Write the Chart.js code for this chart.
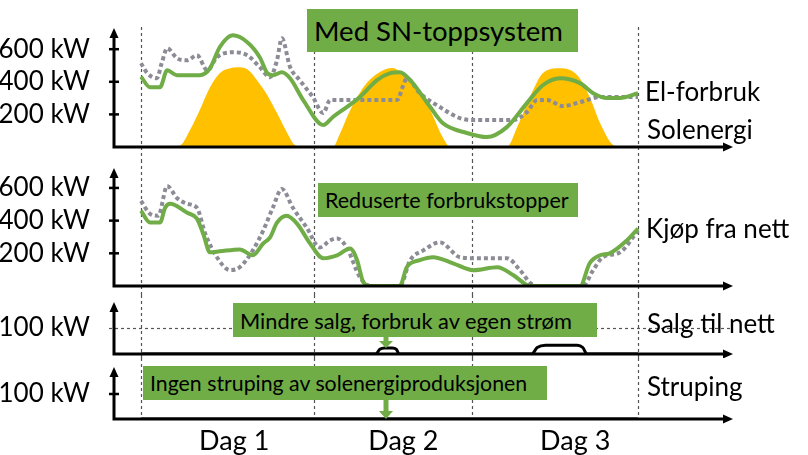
<!DOCTYPE html>
<html>
<head>
<meta charset="utf-8">
<script src="https://cdn.jsdelivr.net/npm/chart.js@4.4.1/dist/chart.umd.min.js"></script>
<style>
  html, body { margin: 0; padding: 0; background: #fff; }
  #wrap { position: relative; width: 808px; height: 455px; overflow: hidden; font-family: Lato, sans-serif; color: #000; }
  #wrap canvas { position: absolute; left: 0; }
  .lbl { position: absolute; font-size: 26px; line-height: 26px; white-space: nowrap; z-index: 2; }
  .box { position: absolute; background: #70AD47; display: flex; align-items: center; padding-left: 7px;
         box-sizing: border-box; white-space: nowrap; z-index: 3; color: #000; }
  svg.arr { position: absolute; z-index: 3; }
</style>
</head>
<body>
<div id="wrap">
  <canvas id="p1" width="808" height="160" style="top:0"></canvas>
  <canvas id="p2" width="808" height="135" style="top:160px"></canvas>
  <canvas id="p3" width="808" height="63" style="top:295px"></canvas>
  <canvas id="p4" width="808" height="97" style="top:358px"></canvas>

  <div class="box" style="left:307px;top:9px;width:271px;height:43px;font-size:27.5px">Med SN-toppsystem</div>
  <div class="box" style="left:318px;top:183px;width:260px;height:34px;font-size:21.5px">Reduserte forbrukstopper</div>
  <div class="box" style="left:233px;top:303px;width:364px;height:34px;font-size:21.8px">Mindre salg, forbruk av egen strøm</div>
  <div class="box" style="left:143px;top:366px;width:404px;height:34px;font-size:21.3px">Ingen struping av solenergiproduksjonen</div>

  <svg class="arr" style="left:379px;top:337px" width="14" height="11"><polygon fill="#70AD47" points="4.5,0 9.5,0 9.5,4 14,4 7,11 0,4 4.5,4"/></svg>
  <svg class="arr" style="left:379px;top:400px" width="14" height="19"><polygon fill="#70AD47" points="4.5,0 9.5,0 9.5,11 14,11 7,19 0,11 4.5,11"/></svg>

  <div class="lbl" style="left:645px;top:78px">El-forbruk</div>
  <div class="lbl" style="left:647px;top:116px">Solenergi</div>
  <div class="lbl" style="left:646px;top:215px">Kjøp fra nett</div>
  <div class="lbl" style="left:647px;top:310px">Salg til nett</div>
  <div class="lbl" style="left:647px;top:373px">Struping</div>
</div>

<script>
// hours from start of Dag 1, kW
var HOUR_MIN = -3.91, HOUR_MAX = 85.76;
var dayLines   = [0, 25.1, 48, 72];
var dayLabelAt = [13.5, 38, 62.9];
var dayLabels  = ['Dag 1', 'Dag 2', 'Dag 3'];

// panel 1: el-forbruk og solenergi
var solH  = [0, 4, 5.6, 7.1, 8.5, 10, 11.4, 12.9, 13.9, 15.4, 16.8, 18.3, 19.7, 21.2, 22.3, 23.5,
             27.8, 28.8, 30.3, 32.7, 35.1, 36.4, 37.5, 39, 41.9, 43.7, 44.8,
             53, 54.5, 56.8, 58.2, 60.7, 63.2, 65, 66.5, 68.4, 69.5, 72];
var solKW = [0, 3, 8, 104, 226, 367, 453, 483, 489, 477, 410, 318, 208, 85, 12, 0,
             0, 80, 226, 392, 471, 485, 465, 422, 226, 61, 0,
             0, 122, 349, 453, 483, 440, 306, 147, 12, 0, 0];

var forbrukSnH  = [0, 1.3, 2.75, 3.8, 5.2, 8.5, 10, 11.4, 13.3, 15.4, 17.2, 18.3, 19.1, 20.4, 21.6,
                   23.5, 26.4, 27.8, 29.8, 31.7, 34.2, 36.1, 37.5, 39, 41.9, 43.7, 47.2, 50.1, 53,
                   55.9, 58.2, 60.7, 63.6, 65.5, 67.5, 69.4, 72];
var forbrukSnKW = [431, 367, 367, 471, 440, 440, 483, 612, 685, 643, 551, 453, 440, 459, 422,
                   288, 135, 184, 245, 306, 410, 453, 459, 410, 245, 147, 86, 61, 122,
                   269, 379, 422, 392, 330, 300, 300, 330];

var forbrukRefH  = [0, 0.9, 2.3, 3, 3.8, 5.2, 6.7, 8.1, 9.6, 11, 13.3, 15.4, 17.2, 18.7, 19.7,
                    20.4, 21.6, 23, 24.9, 26.4, 27.4, 29.3, 32.7, 37.1, 38, 38.5, 40.4, 43.3,
                    46.2, 48.1, 53.9, 55.9, 57.4, 58.8, 61.1, 63.6, 66.5, 70.4, 72];
var forbrukRefKW = [514, 453, 422, 514, 606, 545, 532, 563, 471, 551, 581, 563, 490, 428, 532,
                    667, 490, 410, 306, 208, 288, 288, 288, 288, 380, 422, 330, 245,
                    177, 165, 165, 214, 288, 288, 251, 275, 306, 306, 306];

// panel 2: kjøp fra nett
var kjopSnH  = [0, 1.3, 2.75, 3.5, 4.2, 6.7, 8.1, 9, 10, 11.4, 14.3, 16.2, 17.7, 18.7, 19.7,
                21.1, 22.6, 24.5, 26.4, 28.4, 30.3, 31.3, 32.2, 33.2, 37.5, 38.5, 40.4, 42.3,
                45.2, 48.1, 51.6, 53.9, 55.9, 56.4, 63.6, 65, 66.5, 67.9, 70.4, 72];
var kjopSnKW = [460, 388, 388, 479, 503, 448, 412, 321, 206, 212, 224, 188, 260, 297, 388,
                430, 382, 260, 170, 188, 230, 158, 24, 0, 0, 115, 158, 176,
                139, 97, 115, 67, 6, 0, 0, 139, 188, 200, 279, 351];

var kjopRefH  = [0, 1.3, 2.5, 3.8, 5.2, 6.7, 8.1, 9.3, 11, 12.9, 14.3, 16.2, 17.7, 19.1, 20.4,
                 22, 24, 25.9, 27.4, 28.4, 29.8, 31.7, 33.2, 37.5, 39, 40.9, 43.3, 46.2,
                 48.1, 53, 54.9, 56.4, 57.2, 64, 65.5, 66.9, 69.4, 72];
var kjopRefKW = [521, 442, 430, 612, 539, 503, 479, 321, 176, 97, 115, 218, 339, 479, 594,
                 479, 358, 236, 279, 291, 236, 55, 0, 0, 158, 218, 267, 176,
                 170, 170, 97, 18, 0, 0, 97, 176, 206, 339];

// panel 3: salg til nett, panel 4: struping
var salgH  = [0, 34, 34.6, 35.3, 36.4, 37, 37.4, 56.6, 57.4, 58.6, 63.2, 64, 64.6, 72];
var salgKW = [0, 0, 18, 23, 23, 18, 0, 0, 25, 34, 34, 25, 0, 0];
var strupH  = [0, 72];
var strupKW = [0, 0];

var GREEN = '#70AD47', GREY = '#8C8C96', SUN = '#FFC000';

function pts(hs, vs) {
  return hs.map(function(h, i) { return { x: h, y: vs[i] }; });
}

Chart.defaults.font.family = 'Lato, sans-serif';

// dividers, reference line, axes with arrow heads
var framePlugin = {
  id: 'frame',
  beforeDatasetsDraw: function(chart, args, o) {
    var ctx = chart.ctx, xs = chart.scales.x, ys = chart.scales.y, a = chart.chartArea;
    ctx.save();
    ctx.strokeStyle = '#555'; ctx.lineWidth = 1.2; ctx.setLineDash([3, 3]);
    dayLines.forEach(function(h) {
      var px = Math.round(xs.getPixelForValue(h)) + 0.5;
      ctx.beginPath(); ctx.moveTo(px, o.divTop);
      ctx.lineTo(px, o.divToAxis ? a.bottom : chart.height); ctx.stroke();
    });
    if (o.refLine != null) {
      var py = Math.round(ys.getPixelForValue(o.refLine)) + 0.5;
      ctx.beginPath(); ctx.moveTo(a.left - 5, py); ctx.lineTo(a.right, py); ctx.stroke();
    }
    ctx.restore();
  },
  afterDatasetsDraw: function(chart, args, o) {
    var ctx = chart.ctx, ys = chart.scales.y, a = chart.chartArea;
    ctx.save();
    ctx.strokeStyle = '#000'; ctx.fillStyle = '#000'; ctx.lineWidth = 3;
    ctx.beginPath();
    ctx.moveTo(a.left, a.top + 6); ctx.lineTo(a.left, a.bottom); ctx.lineTo(a.right - 6, a.bottom);
    ctx.stroke();
    ctx.beginPath();
    ctx.moveTo(a.left, a.top); ctx.lineTo(a.left - 4.5, a.top + 10); ctx.lineTo(a.left + 4.5, a.top + 10);
    ctx.closePath(); ctx.fill();
    ctx.beginPath();
    ctx.moveTo(a.right, a.bottom); ctx.lineTo(a.right - 10, a.bottom - 4.5); ctx.lineTo(a.right - 10, a.bottom + 4.5);
    ctx.closePath(); ctx.fill();
    if (o.tickMarks) {
      ctx.lineWidth = 2.5;
      ys.ticks.forEach(function(t) {
        var py = ys.getPixelForValue(t.value);
        ctx.beginPath(); ctx.moveTo(a.left - 5, py); ctx.lineTo(a.left + 5, py); ctx.stroke();
      });
    }
    ctx.restore();
  }
};

function makePanel(id, yMax, yTicks, datasets, frame, pad, xAxis) {
  return new Chart(document.getElementById(id), {
    type: 'line',
    data: { datasets: datasets },
    options: {
      responsive: false, animation: false, events: [],
      layout: { padding: { left: 0, right: 75, top: pad[0], bottom: pad[1] } },
      elements: { point: { radius: 0 }, line: { cubicInterpolationMode: 'monotone' } },
      plugins: { legend: { display: false }, tooltip: { enabled: false }, frame: frame },
      scales: {
        x: xAxis || { type: 'linear', display: false, min: HOUR_MIN, max: HOUR_MAX },
        y: {
          min: 0, max: yMax,
          grid: { display: false }, border: { display: false },
          afterBuildTicks: function(s) { s.ticks = yTicks.map(function(v) { return { value: v }; }); },
          afterFit: function(s) { s.width = 114; s.paddingTop = 0; s.paddingBottom = 0; },
          ticks: { color: '#000', font: { size: 26 }, padding: 16,
                   callback: function(v) { return v + ' kW'; } }
        }
      }
    },
    plugins: [framePlugin]
  });
}

function sn(h, v)  { return { data: pts(h, v), borderColor: GREEN, borderWidth: 4, fill: false }; }
function ref(h, v) { return { data: pts(h, v), borderColor: GREY, borderWidth: 4, borderDash: [4, 3], fill: false }; }

makePanel('p1', 730, [200, 400, 600], [
  sn(forbrukSnH, forbrukSnKW),
  ref(forbrukRefH, forbrukRefKW),
  { data: pts(solH, solKW), borderColor: SUN, borderWidth: 0, backgroundColor: SUN, fill: 'origin' }
], { divTop: 27, tickMarks: true }, [28, 13]);

makePanel('p2', 722, [200, 400, 600], [
  sn(kjopSnH, kjopSnKW),
  ref(kjopRefH, kjopRefKW)
], { divTop: 0, tickMarks: true }, [8, 9]);

makePanel('p3', 200, [100], [
  { data: pts(salgH, salgKW), borderColor: '#000', borderWidth: 3, fill: false }
], { divTop: 0, tickMarks: false, refLine: 100 }, [7, 4]);

makePanel('p4', 208, [100], [
  { data: pts(strupH, strupKW), borderColor: '#000', borderWidth: 3, fill: false }
], { divTop: 0, divToAxis: true, tickMarks: true }, [9, 0], {
  type: 'linear', min: HOUR_MIN, max: HOUR_MAX,
  grid: { display: false, drawTicks: false }, border: { display: false },
  afterBuildTicks: function(s) { s.ticks = dayLabelAt.map(function(v) { return { value: v }; }); },
  afterFit: function(s) { s.height = 36; s.paddingLeft = 0; s.paddingRight = 0; },
  ticks: { autoSkip: false, maxRotation: 0, color: '#000', font: { size: 27 }, padding: 6,
           callback: function(v, i) { return dayLabels[i]; } }
});
</script>
</body>
</html>
